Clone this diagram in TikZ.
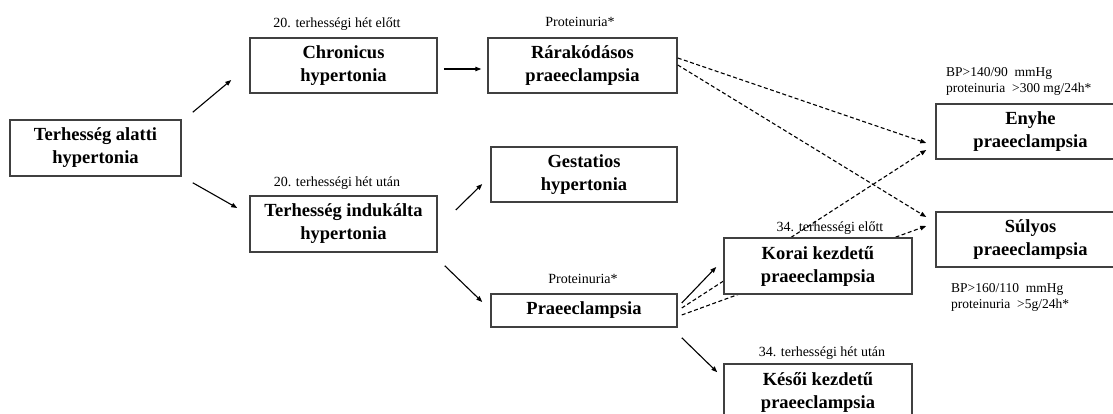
\documentclass[tikz,border=0pt]{standalone}
\usepackage{fontspec}
\setmainfont{Liberation Serif}
\usetikzlibrary{arrows.meta}

\begin{document}
\begin{tikzpicture}
   [x=1pt, y=-1pt,
    box/.style={draw=black!75, line width=1.5pt, fill=white, align=center, inner sep=0pt,
                font=\bfseries\fontsize{18.5}{23}\selectfont},
    note/.style={font=\fontsize{14}{16}\selectfont, inner sep=0pt},
    arr/.style={-{Triangle[length=6pt,width=4.5pt]}, line width=1.1pt},
    darr/.style={arr, dash pattern=on 4pt off 2.5pt}]
   \useasboundingbox (0,0) rectangle (1113,414);

   \node[box, minimum width=171pt, minimum height=56pt] (alatti) at (95.5,148) {Terhesség alatti\\hypertonia};
   \node[box, minimum width=187pt, minimum height=55pt] (chron) at (343.5,65.5) {Chronicus\\hypertonia};
   \node[box, minimum width=187pt, minimum height=56pt] (indukalt) at (343.5,224) {Terhesség indukálta\\hypertonia};
   \node[box, minimum width=189pt, minimum height=55pt] (rarak) at (582.5,65.5) {Rárakódásos\\praeeclampsia};
   \node[box, minimum width=186pt, minimum height=55pt] (gest) at (584,174.5) {Gestatios\\hypertonia};
   \node[box, minimum width=186pt, minimum height=33pt] (praee) at (584,310.5) {Praeeclampsia};
   \node[box, minimum width=189pt, minimum height=55pt] (enyhe) at (1030.5,131.5) {Enyhe\\praeeclampsia};
   \node[box, minimum width=189pt, minimum height=55pt] (sulyos) at (1030.5,239.5) {Súlyos\\praeeclampsia};
   \node[box, minimum width=188pt, minimum height=56pt] (kesoi) at (818,392) {Késői kezdetű\\praeeclampsia};

   % dashed lines run behind the Korai box
   \draw[darr] ([shift={(0,-7.5)}]rarak.east) -- ([shift={(-9,11.5)}]enyhe.west);
   \draw[darr] ([shift={(0,-0.5)}]rarak.east) -- ([shift={(-9,-22.5)}]sulyos.west);
   \draw[darr] ([shift={(4,-2.5)}]praee.east) -- ([shift={(-9,18.5)}]enyhe.west);
   \draw[darr] ([shift={(4,4.5)}]praee.east) -- ([shift={(-9,-13.5)}]sulyos.west);

   \node[box, minimum width=188pt, minimum height=56pt] (korai) at (818,266) {Korai kezdetű\\praeeclampsia};

   \node[note] (elott20) at (337,24) {20. terhességi hét előtt};
   \node[note] (utan20) at (337,183) {20. terhességi hét után};
   \node[note] (prot1) at (580,22) {Proteinuria*};
   \node[note] (prot2) at (583,279) {Proteinuria*};
   \node[note] (elott34) at (830,228) {34. terhességi előtt};
   \node[note] (utan34) at (822,353) {34. terhességi hét után};
   \node[note, anchor=west, align=left, font=\fontsize{13.5}{16}\selectfont] (enyhebp) at (946,81) {BP>140/90\ \ mmHg\\proteinuria\ \ >300 mg/24h*};
   \node[note, anchor=west, align=left, font=\fontsize{13.5}{15.5}\selectfont] (sulyosbp) at (951,297.5) {BP>160/110\ \ mmHg\\proteinuria\ \ >5g/24h*};

   \draw[arr] ([shift={(11,-7)}]alatti.north east) -- ([shift={(-18,14.5)}]chron.west);
   \draw[arr] ([shift={(11,6)}]alatti.south east) -- ([shift={(-12,-16)}]indukalt.west);
   \draw[arr] ([shift={(6,3.5)}]chron.east) -- ([shift={(-6,3.5)}]rarak.west);
   \draw[arr] ([shift={(18,-14)}]indukalt.east) -- ([shift={(-8,9.5)}]gest.west);
   \draw[arr] ([shift={(7,13)}]indukalt.south east) -- ([shift={(-8,-8.5)}]praee.west);
   \draw[arr] ([shift={(4,-7.5)}]praee.east) -- ([shift={(-7,1)}]korai.west);
   \draw[arr] ([shift={(4,10)}]praee.south east) -- ([shift={(-6,9)}]kesoi.north west);
\end{tikzpicture}
\end{document}
